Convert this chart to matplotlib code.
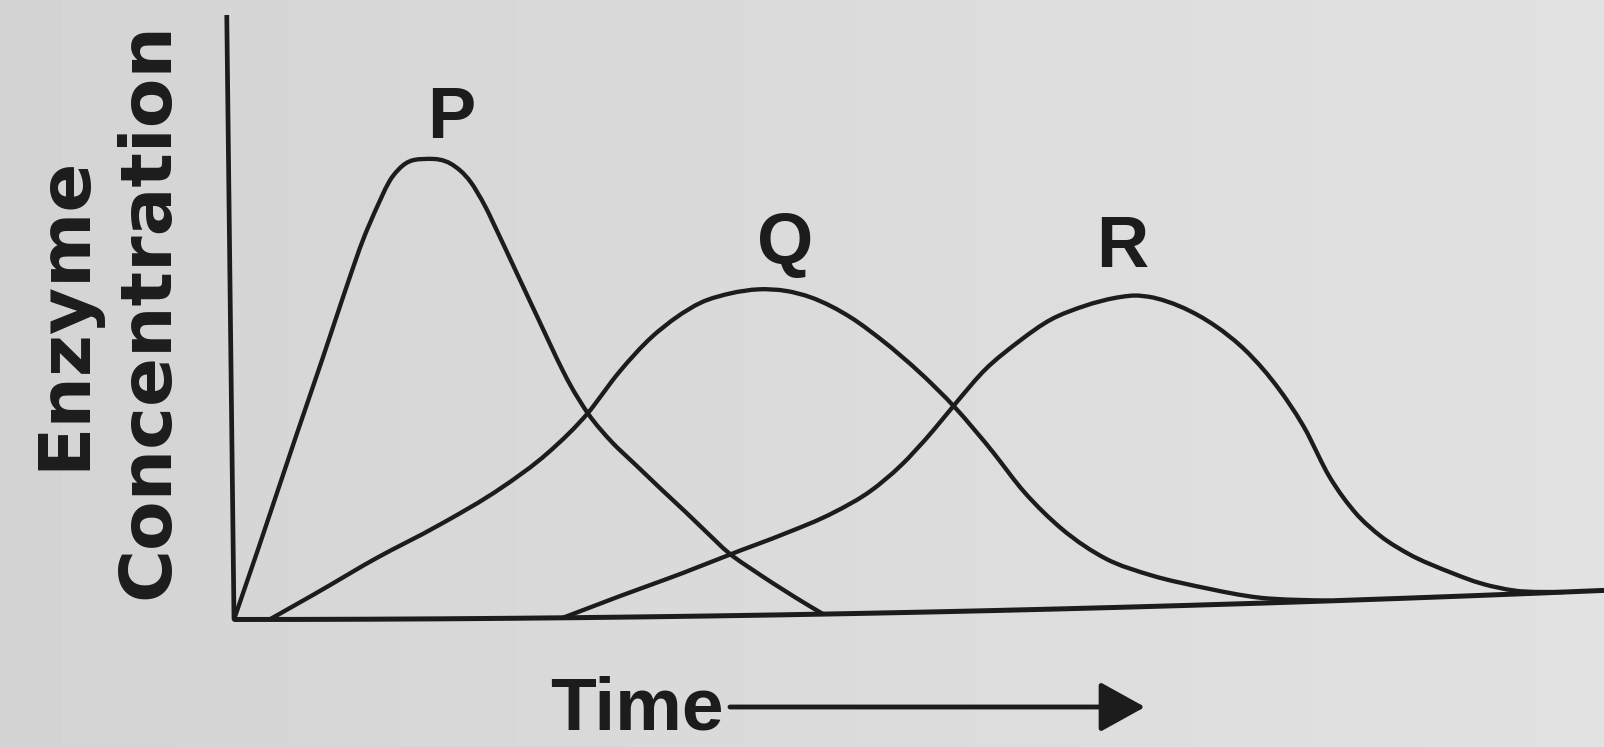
import numpy as np
import matplotlib
matplotlib.use("Agg")
import matplotlib.pyplot as plt
from matplotlib.path import Path
from matplotlib.patches import PathPatch, FancyArrowPatch
from matplotlib.transforms import Transform

# enzyme levels over time (arbitrary units)
p_time = [0, 0.18, 0.42, 0.65, 0.85, 0.97, 1.08, 1.18, 1.27, 1.45, 1.62, 1.76,
          1.86, 1.96, 2.06, 2.14, 2.25, 2.35, 2.47, 2.60, 2.76, 2.93, 3.11, 3.29,
          3.45, 3.61, 3.81, 4.00, 4.15, 4.30]
p_conc = [0, 1.15, 2.72, 4.19, 5.50, 6.25, 6.82, 7.27, 7.50, 7.61, 7.53, 7.24,
          6.86, 6.38, 5.88, 5.48, 4.93, 4.43, 3.87, 3.38, 2.93, 2.55, 2.15, 1.76,
          1.40, 1.05, 0.72, 0.43, 0.21, 0]

q_time = [0.26, 0.63, 1.02, 1.48, 1.95, 2.29, 2.60, 2.82, 3.06, 3.25, 3.43, 3.65,
          3.85, 4.05, 4.23, 4.52, 4.76, 5.01, 5.27, 5.53, 5.77, 6.04, 6.36, 6.69,
          7.05, 7.46, 8.00]
q_conc = [0, 0.47, 0.98, 1.52, 2.14, 2.70, 3.38, 4.02, 4.60, 4.94, 5.18, 5.33,
          5.39, 5.36, 5.25, 4.91, 4.50, 4.00, 3.40, 2.69, 1.97, 1.34, 0.82, 0.52,
          0.30, 0.10, 0]

r_time = [2.40, 2.82, 3.26, 3.61, 3.99, 4.38, 4.65, 4.87, 5.10, 5.27, 5.50, 5.74,
          5.98, 6.22, 6.49, 6.60, 6.71, 6.93, 7.18, 7.40, 7.64, 7.83, 8.00, 8.19,
          8.37, 8.57, 8.86, 9.10, 9.34, 9.70]
r_conc = [0, 0.35, 0.70, 1.00, 1.31, 1.67, 2.01, 2.41, 2.95, 3.40, 3.98, 4.42,
          4.78, 4.99, 5.13, 5.15, 5.12, 4.95, 4.62, 4.20, 3.55, 2.87, 2.08, 1.45,
          1.05, 0.74, 0.42, 0.20, 0.06, 0]

curve_names = ["P", "Q", "R"]
name_time = [1.63, 4.05, 6.51]
name_conc = [7.96, 5.80, 5.63]

INK = "#1c1c1c"


class PageBend(Transform):
    """Slight curl of the printed page: baseline rises to the right, y axis leans left."""
    input_dims = 2
    output_dims = 2

    def __init__(self, x0, y0, rise, lean):
        super().__init__()
        self.x0, self.y0 = x0, y0
        self.rise, self.lean = rise, lean

    def transform_non_affine(self, values):
        xy = np.asarray(values, dtype=float)
        dx = xy[:, 0] - self.x0
        dy = xy[:, 1] - self.y0
        out = np.empty_like(xy)
        out[:, 0] = xy[:, 0] - self.lean * dy
        out[:, 1] = xy[:, 1] + self.rise * dx ** 2
        return out

    def transform_path_non_affine(self, path):
        # flatten curves in display space, then bend the polyline
        polys = [Path(p).interpolated(20) for p in path.to_polygons(closed_only=False)]
        flat = Path.make_compound_path(*polys)
        return Path(self.transform_non_affine(flat.vertices), flat.codes)


def smooth_path(t, c):
    """Cubic Bezier path through the points, slopes from neighbouring points."""
    t = np.asarray(t, float)
    c = np.asarray(c, float)
    m = np.gradient(c, t)
    verts = [(t[0], c[0])]
    codes = [Path.MOVETO]
    for i in range(len(t) - 1):
        h = t[i + 1] - t[i]
        verts += [(t[i] + h / 3, c[i] + m[i] * h / 3),
                  (t[i + 1] - h / 3, c[i + 1] - m[i + 1] * h / 3),
                  (t[i + 1], c[i + 1])]
        codes += [Path.CURVE4] * 3
    return Path(verts, codes)


fig = plt.figure(figsize=(16.04, 7.47), dpi=100)

# paper tone, a little darker toward the left
bg = fig.add_axes([0, 0, 1, 1], zorder=-1)
shade = np.linspace(0.83, 0.885, 256)[None, :] * np.ones((16, 1))
bg.imshow(shade, cmap="gray", vmin=0, vmax=1, aspect="auto",
          interpolation="bicubic", extent=(0, 1, 0, 1))
bg.axis("off")

ax = fig.add_axes([0.1459, 0.1707, 0.8541, 0.8092])
ax.set_xlim(0, 10)
ax.set_ylim(0, 10)
ax.axis("off")
ax.set_facecolor("none")

x0, y0 = ax.transData.transform((0, 0))
bend = ax.transData + PageBend(x0, y0, rise=1.55e-5, lean=0.012)

# axes drawn as lines so they follow the page
xmin, xmax = ax.get_xlim()
ymin, ymax = ax.get_ylim()
ax.plot([xmin, xmax], [ymin, ymin], color=INK, lw=3.6, transform=bend,
        clip_on=False, solid_capstyle="butt")
ax.plot([xmin, xmin], [ymin, ymax], color=INK, lw=3.4, transform=bend,
        clip_on=False, solid_capstyle="butt")

for t, c in [(p_time, p_conc), (q_time, q_conc), (r_time, r_conc)]:
    ax.add_patch(PathPatch(smooth_path(t, c), fill=False, edgecolor=INK,
                           lw=3.1, transform=bend, clip_on=False,
                           capstyle="round", joinstyle="round"))

for name, t, c in zip(curve_names, name_time, name_conc):
    ax.text(t, c, name, transform=bend, ha="center", va="baseline",
            fontsize=52, fontweight="bold", family="Liberation Sans", color=INK)

# axis titles
fig.text(84 / 1604, 1 - 313 / 747, "Enzyme", rotation=90, rotation_mode="anchor",
         ha="center", va="baseline", fontsize=52, fontweight="bold",
         family="DejaVu Sans", color=INK)
fig.text(168 / 1604, 1 - 311 / 747, "Concentration", rotation=90,
         rotation_mode="anchor", ha="center", va="baseline", fontsize=52,
         fontweight="bold", family="DejaVu Sans", color=INK)
fig.text(550 / 1604, 1 - 729 / 747, "Time", ha="left", va="baseline",
         fontsize=54, fontweight="bold", family="Liberation Sans", color=INK)

fig.add_artist(FancyArrowPatch(
    (730 / 1604, 1 - 707 / 747), (1145 / 1604, 1 - 707 / 747),
    transform=fig.transFigure, arrowstyle="-|>,head_length=28,head_width=15.5",
    mutation_scale=1, lw=3.5, color=INK, shrinkA=0, shrinkB=0))

fig.savefig("out.png", dpi=100)
